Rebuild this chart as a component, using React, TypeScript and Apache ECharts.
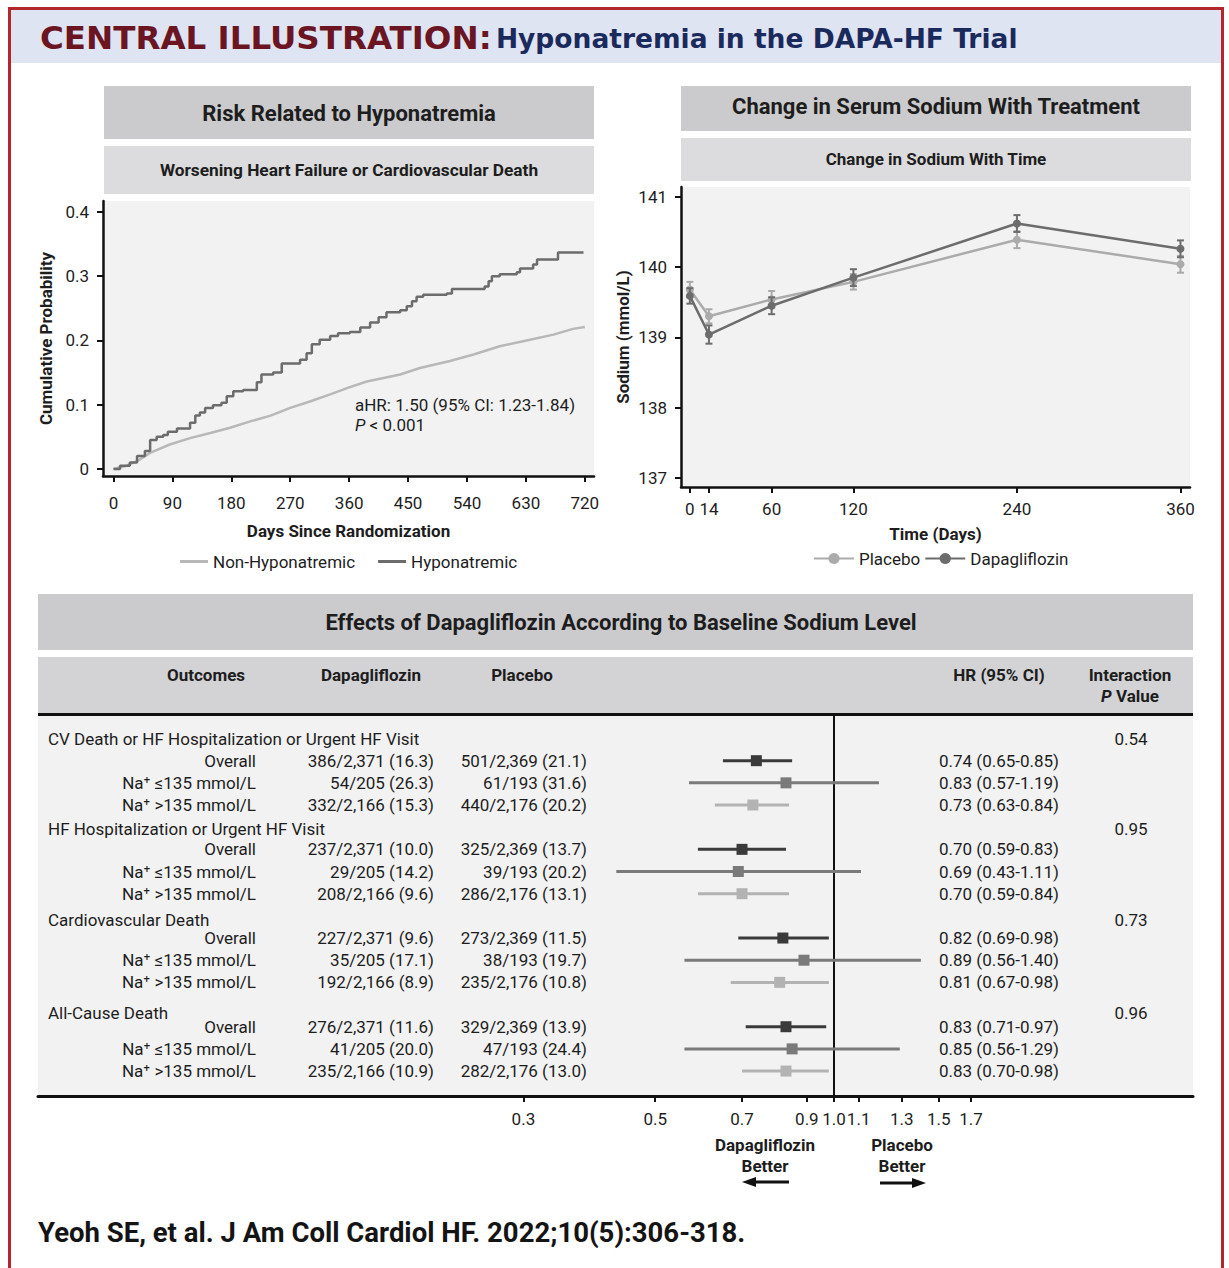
import React, { useEffect, useRef } from 'react';
import * as echarts from 'echarts';

// ---------- Kaplan–Meier: worsening HF or CV death ----------
const kmTicksX = [0, 90, 180, 270, 360, 450, 540, 630, 720];
const kmTicksY = [0, 0.1, 0.2, 0.3, 0.4];
const hypoDays = [0, 10, 25, 36, 48, 56, 66, 76, 83, 97, 117, 125, 132, 140, 152, 165, 173, 183, 198, 219, 226, 244, 257, 285, 295, 303, 315, 331, 343, 361, 377, 392, 405, 417, 438, 448, 456, 463, 473, 509, 517, 567, 573, 578, 590, 616, 621, 641, 647, 679, 718];
const hypoProb = [0, 0.005, 0.01, 0.02, 0.028, 0.045, 0.05, 0.053, 0.058, 0.063, 0.072, 0.083, 0.088, 0.095, 0.099, 0.103, 0.113, 0.121, 0.123, 0.135, 0.147, 0.15, 0.164, 0.17, 0.18, 0.194, 0.201, 0.207, 0.211, 0.213, 0.22, 0.228, 0.236, 0.244, 0.247, 0.253, 0.261, 0.268, 0.271, 0.273, 0.28, 0.284, 0.292, 0.3, 0.303, 0.306, 0.312, 0.318, 0.326, 0.337, 0.337];
const nonHypoDays = [0, 20, 36, 56, 86, 117, 148, 178, 209, 240, 270, 300, 331, 360, 387, 438, 468, 514, 550, 590, 631, 672, 702, 720];
const nonHypoProb = [0, 0.005, 0.012, 0.025, 0.038, 0.048, 0.056, 0.064, 0.074, 0.083, 0.095, 0.105, 0.116, 0.127, 0.136, 0.147, 0.157, 0.168, 0.178, 0.191, 0.2, 0.209, 0.218, 0.221];

// ---------- Serum sodium over time ----------
const sodiumDays = [0, 14, 60, 120, 240, 360];
const sodiumTicksY = [137, 138, 139, 140, 141];
const placeboMean = [139.68, 139.3, 139.54, 139.79, 140.39, 140.04];
const placeboErr = [0.11, 0.1, 0.12, 0.11, 0.12, 0.12];
const dapaMean = [139.59, 139.04, 139.45, 139.85, 140.62, 140.26];
const dapaErr = [0.11, 0.13, 0.12, 0.12, 0.12, 0.12];

// ---------- Forest plot by baseline sodium ----------
const outcomes = [
  'CV Death or HF Hospitalization or Urgent HF Visit',
  'HF Hospitalization or Urgent HF Visit',
  'Cardiovascular Death',
  'All-Cause Death',
];
const subgroups = ['Overall', 'Na\u207A \u2264135 mmol/L', 'Na\u207A >135 mmol/L'];
const interactionP = ['0.54', '0.95', '0.73', '0.96'];
const dapaEvents = [
  '386/2,371 (16.3)', '54/205 (26.3)', '332/2,166 (15.3)',
  '237/2,371 (10.0)', '29/205 (14.2)', '208/2,166 (9.6)',
  '227/2,371 (9.6)', '35/205 (17.1)', '192/2,166 (8.9)',
  '276/2,371 (11.6)', '41/205 (20.0)', '235/2,166 (10.9)',
];
const placeboEvents = [
  '501/2,369 (21.1)', '61/193 (31.6)', '440/2,176 (20.2)',
  '325/2,369 (13.7)', '39/193 (20.2)', '286/2,176 (13.1)',
  '273/2,369 (11.5)', '38/193 (19.7)', '235/2,176 (10.8)',
  '329/2,369 (13.9)', '47/193 (24.4)', '282/2,176 (13.0)',
];
const hr = [0.74, 0.83, 0.73, 0.7, 0.69, 0.7, 0.82, 0.89, 0.81, 0.83, 0.85, 0.83];
const hrLo = [0.65, 0.57, 0.63, 0.59, 0.43, 0.59, 0.69, 0.56, 0.67, 0.71, 0.56, 0.7];
const hrHi = [0.85, 1.19, 0.84, 0.83, 1.11, 0.84, 0.98, 1.4, 0.98, 0.97, 1.29, 0.98];
const forestTicks = [0.3, 0.5, 0.7, 0.9, 1.0, 1.1, 1.3, 1.5, 1.7];
const forestTickLabels = ['0.3', '0.5', '0.7', '0.9', '1.0', '1.1', '1.3', '1.5', '1.7'];

// layout helpers (row slots inside the forest grid)
const titleNudge = [0, 0.1, 0.19, 0.4];
const subgroupColors = ['#3a3a3a', '#7a7a7a', '#b3b3b3'];

const FONT = 'Roboto, "Liberation Sans", sans-serif';
const INK = '#1d1d1d';
const LIGHT = '#b8b8b8';
const DARK = '#6c6c6c';

const fmt = (v: number) => v.toFixed(2);
const hrText = hr.map((h, i) => `${fmt(h)} (${fmt(hrLo[i])}-${fmt(hrHi[i])})`);

const rowSlot = (i: number) => Math.floor(i / 3) * 4 + 1 + (i % 3);

function buildOption(): any {
  const axisLineStyle = { color: '#111', width: 2.5 };
  const tickStyle = { color: '#111', width: 2 };
  const labelStyle = { fontSize: 17, color: INK, fontFamily: FONT };
  const nameStyle = { fontSize: 17, color: INK, fontFamily: FONT, fontWeight: 'bold' };

  const errBar = (color: string) => (params: any, api: any) => {
    const x = api.value(0);
    const lo = api.coord([x, api.value(1)]);
    const hi = api.coord([x, api.value(2)]);
    const w = 3.5;
    const s = { stroke: color, lineWidth: 2 };
    return {
      type: 'group',
      children: [
        { type: 'line', shape: { x1: lo[0], y1: lo[1], x2: hi[0], y2: hi[1] }, style: s },
        { type: 'line', shape: { x1: lo[0] - w, y1: lo[1], x2: lo[0] + w, y2: lo[1] }, style: s },
        { type: 'line', shape: { x1: hi[0] - w, y1: hi[1], x2: hi[0] + w, y2: hi[1] }, style: s },
      ],
    };
  };

  const txt = (text: string, x: number, y: number, o: any = {}) => ({
    type: 'text',
    x,
    y,
    style: {
      text,
      fill: o.fill || INK,
      fontSize: o.fontSize || 17,
      fontFamily: o.fontFamily || FONT,
      fontWeight: o.fontWeight || 'normal',
      fontStyle: o.fontStyle || 'normal',
      align: o.align || 'left',
      textAlign: o.align || 'left',
      verticalAlign: 'middle',
      textVerticalAlign: 'middle',
      rich: o.rich,
    },
  });

  const box = (x: number, y: number, w: number, h: number, fill: string) => ({
    type: 'rect',
    shape: { x, y, width: w, height: h },
    style: { fill },
    silent: true,
  });

  const graphic: any[] = [
    // frame and title bar
    box(11, 10, 1210, 53, '#dfe4f3'),
    box(8, 7, 1216, 3, '#b3262c'),
    box(8, 7, 3, 1261, '#b3262c'),
    box(1221, 7, 3, 1261, '#b3262c'),
    txt('{a|CENTRAL ILLUSTRATION:} {b|Hyponatremia in the DAPA-HF Trial}', 40, 38, {
      rich: {
        a: { fontFamily: '"DejaVu Sans", sans-serif', fontWeight: 'bold', fontSize: 32.5, fill: '#6b1522', color: '#6b1522' },
        b: { fontFamily: '"DejaVu Sans", sans-serif', fontWeight: 'bold', fontSize: 26.5, fill: '#1b2a5c', color: '#1b2a5c' },
      },
    }),
    // left panel headers
    box(104, 86, 490, 53, '#cbcbce'),
    txt('Risk Related to Hyponatremia', 349, 113, { fontSize: 22, fontWeight: 'bold', align: 'center' }),
    box(104, 146, 490, 48, '#dcdcde'),
    txt('Worsening Heart Failure or Cardiovascular Death', 349, 170, { fontSize: 17.3, fontWeight: 'bold', align: 'center' }),
    // right panel headers
    box(681, 86, 510, 45, '#cbcbce'),
    txt('Change in Serum Sodium With Treatment', 936, 106, { fontSize: 22, fontWeight: 'bold', align: 'center' }),
    box(681, 138, 510, 43, '#dcdcde'),
    txt('Change in Sodium With Time', 936, 159, { fontSize: 17, fontWeight: 'bold', align: 'center' }),
    // KM annotation
    txt('aHR: 1.50 (95% CI: 1.23-1.84)', 355, 405),
    txt('{i|P} < 0.001', 355, 425, { rich: { i: { fontStyle: 'italic', fontFamily: FONT, fontSize: 17, fill: INK, color: INK } } }),
    // forest headers
    box(38, 594, 1155, 56, '#cbcbce'),
    txt('Effects of Dapagliflozin According to Baseline Sodium Level', 621, 622, { fontSize: 22, fontWeight: 'bold', align: 'center' }),
    box(38, 657, 1155, 57, '#d3d3d6'),
    txt('Outcomes', 206, 675, { fontWeight: 'bold', align: 'center' }),
    txt('Dapagliflozin', 371, 675, { fontWeight: 'bold', align: 'center' }),
    txt('Placebo', 522, 675, { fontWeight: 'bold', align: 'center' }),
    txt('HR (95% CI)', 999, 675, { fontWeight: 'bold', align: 'center' }),
    txt('Interaction', 1130, 675, { fontWeight: 'bold', align: 'center' }),
    txt('{i|P} Value', 1130, 696, {
      fontWeight: 'bold',
      align: 'center',
      rich: { i: { fontStyle: 'italic', fontWeight: 'bold', fontFamily: FONT, fontSize: 17, fill: INK, color: INK } },
    }),
    box(38, 713, 1155, 3, '#111'),
    // direction notes under the forest axis
    txt('Dapagliflozin', 765, 1145, { fontWeight: 'bold', align: 'center' }),
    txt('Better', 765, 1166, { fontWeight: 'bold', align: 'center' }),
    txt('Placebo', 902, 1145, { fontWeight: 'bold', align: 'center' }),
    txt('Better', 902, 1166, { fontWeight: 'bold', align: 'center' }),
    { type: 'line', shape: { x1: 789, y1: 1182, x2: 752, y2: 1182 }, style: { stroke: '#111', lineWidth: 3 } },
    { type: 'polygon', shape: { points: [[742, 1182], [756, 1177], [756, 1187]] }, style: { fill: '#111' } },
    { type: 'line', shape: { x1: 880, y1: 1183, x2: 916, y2: 1183 }, style: { stroke: '#111', lineWidth: 3 } },
    { type: 'polygon', shape: { points: [[926, 1183], [912, 1178], [912, 1188]] }, style: { fill: '#111' } },
    // citation
    txt('Yeoh SE, et al. J Am Coll Cardiol HF. 2022;10(5):306-318.', 38, 1232, { fontSize: 27.5, fontWeight: 'bold', fill: '#141414' }),
  ];

  const forestCI = hr.map((h, i) => [Math.log(h), Math.log(hrLo[i]), Math.log(hrHi[i]), rowSlot(i)]);
  const forestRows = hr.map((_, i) => [0, rowSlot(i)]);
  const titleRows = outcomes.map((_, g) => [0, g * 4 + titleNudge[g]]);

  return {
    animation: false,
    backgroundColor: '#ffffff',
    textStyle: { fontFamily: FONT },
    graphic,
    grid: [
      { left: 103, top: 201, width: 491, height: 275, show: true, backgroundColor: '#f2f2f2', borderWidth: 0 },
      { left: 681, top: 187, width: 509, height: 300, show: true, backgroundColor: '#f2f2f2', borderWidth: 0 },
      { left: 38, top: 716, width: 1155, height: 380, show: true, backgroundColor: '#f2f2f2', borderWidth: 0 },
    ],
    legend: [
      {
        data: [
          { name: 'Non-Hyponatremic', icon: 'rect' },
          { name: 'Hyponatremic', icon: 'rect' },
        ],
        left: 175,
        top: 548,
        itemWidth: 28,
        itemHeight: 3,
        itemGap: 23,
        textStyle: { ...labelStyle },
        selectedMode: false,
      },
      {
        data: ['Placebo', 'Dapagliflozin'],
        left: 808,
        top: 545,
        itemWidth: 40,
        itemHeight: 14,
        itemGap: 4,
        textStyle: { ...labelStyle },
        selectedMode: false,
      },
    ],
    xAxis: [
      {
        gridIndex: 0,
        type: 'value',
        min: -16,
        max: 734,
        name: 'Days Since Randomization',
        nameLocation: 'middle',
        nameGap: 46,
        nameTextStyle: nameStyle,
        axisLine: { show: true, onZero: false, lineStyle: axisLineStyle },
        axisTick: { show: true, customValues: kmTicksX, length: 6, lineStyle: tickStyle },
        axisLabel: { customValues: kmTicksX, margin: 18, ...labelStyle },
        splitLine: { show: false },
      },
      {
        gridIndex: 1,
        type: 'value',
        min: -6.5,
        max: 367,
        name: 'Time (Days)',
        nameLocation: 'middle',
        nameGap: 38,
        nameTextStyle: nameStyle,
        axisLine: { show: true, onZero: false, lineStyle: axisLineStyle },
        axisTick: { show: true, customValues: sodiumDays, length: 6, lineStyle: tickStyle },
        axisLabel: { customValues: sodiumDays, margin: 13, ...labelStyle },
        splitLine: { show: false },
      },
      {
        gridIndex: 2,
        type: 'value',
        min: -3.085,
        max: 1.391,
        axisLine: { show: true, onZero: false, lineStyle: { color: '#111', width: 3 } },
        axisTick: { show: true, customValues: forestTicks.map(Math.log), length: 6, lineStyle: tickStyle },
        axisLabel: {
          customValues: forestTicks.map(Math.log),
          margin: 14,
          hideOverlap: false,
          ...labelStyle,
          formatter: (v: number) => {
            const k = forestTicks.findIndex((t) => Math.abs(Math.log(t) - v) < 1e-6);
            return k >= 0 ? forestTickLabels[k] : '';
          },
        },
        splitLine: { show: false },
      },
    ],
    yAxis: [
      {
        gridIndex: 0,
        type: 'value',
        min: -0.011,
        max: 0.417,
        name: 'Cumulative Probability',
        nameLocation: 'middle',
        nameGap: 49,
        nameTextStyle: nameStyle,
        axisLine: { show: true, onZero: false, lineStyle: axisLineStyle },
        axisTick: { show: true, customValues: kmTicksY, length: 6, lineStyle: tickStyle },
        axisLabel: {
          customValues: kmTicksY,
          margin: 14,
          ...labelStyle,
          formatter: (v: number) => (Math.abs(v) < 1e-9 ? '0' : v.toFixed(1)),
        },
        splitLine: { show: false },
      },
      {
        gridIndex: 1,
        type: 'value',
        min: 136.87,
        max: 141.14,
        name: 'Sodium (mmol/L)',
        nameLocation: 'middle',
        nameGap: 50,
        nameTextStyle: nameStyle,
        axisLine: { show: true, onZero: false, lineStyle: axisLineStyle },
        axisTick: { show: true, customValues: sodiumTicksY, length: 6, lineStyle: tickStyle },
        axisLabel: { customValues: sodiumTicksY, margin: 14, ...labelStyle },
        splitLine: { show: false },
      },
      {
        gridIndex: 2,
        type: 'value',
        inverse: true,
        min: -1.015,
        max: 16.125,
        show: false,
      },
    ],
    series: [
      // Kaplan–Meier curves
      {
        name: 'Non-Hyponatremic',
        type: 'line',
        xAxisIndex: 0,
        yAxisIndex: 0,
        showSymbol: false,
        symbol: 'none',
        color: LIGHT,
        lineStyle: { color: LIGHT, width: 2.5 },
        data: nonHypoDays.map((d, i) => [d, nonHypoProb[i]]),
      },
      {
        name: 'Hyponatremic',
        type: 'line',
        xAxisIndex: 0,
        yAxisIndex: 0,
        step: 'end',
        showSymbol: false,
        symbol: 'none',
        color: DARK,
        lineStyle: { color: DARK, width: 2.5 },
        data: hypoDays.map((d, i) => [d, hypoProb[i]]),
      },
      // Sodium error bars
      {
        type: 'custom',
        xAxisIndex: 1,
        yAxisIndex: 1,
        renderItem: errBar('#a9a9a9'),
        data: sodiumDays.map((d, i) => [d, placeboMean[i] - placeboErr[i], placeboMean[i] + placeboErr[i]]),
        z: 1,
      },
      {
        type: 'custom',
        xAxisIndex: 1,
        yAxisIndex: 1,
        renderItem: errBar('#6c6c6c'),
        data: sodiumDays.map((d, i) => [d, dapaMean[i] - dapaErr[i], dapaMean[i] + dapaErr[i]]),
        z: 3,
      },
      {
        name: 'Placebo',
        type: 'line',
        xAxisIndex: 1,
        yAxisIndex: 1,
        symbol: 'circle',
        symbolSize: 8,
        color: '#ababab',
        lineStyle: { color: '#ababab', width: 2.5 },
        itemStyle: { color: '#ababab' },
        data: sodiumDays.map((d, i) => [d, placeboMean[i]]),
        z: 2,
      },
      {
        name: 'Dapagliflozin',
        type: 'line',
        xAxisIndex: 1,
        yAxisIndex: 1,
        symbol: 'circle',
        symbolSize: 8,
        color: '#6c6c6c',
        lineStyle: { color: '#6c6c6c', width: 2.5 },
        itemStyle: { color: '#6c6c6c' },
        data: sodiumDays.map((d, i) => [d, dapaMean[i]]),
        z: 4,
      },
      // Forest: reference line at HR = 1
      {
        type: 'scatter',
        xAxisIndex: 2,
        yAxisIndex: 2,
        data: [],
        markLine: {
          silent: true,
          symbol: 'none',
          label: { show: false },
          lineStyle: { color: '#111', width: 2, type: 'solid' },
          data: [{ xAxis: 0 }],
        },
      },
      // Forest: confidence intervals and point estimates
      {
        type: 'custom',
        xAxisIndex: 2,
        yAxisIndex: 2,
        data: forestCI,
        renderItem: (params: any, api: any) => {
          const i = params.dataIndex;
          const c = subgroupColors[i % 3];
          const slot = api.value(3);
          const p = api.coord([api.value(0), slot]);
          const a = api.coord([api.value(1), slot]);
          const b = api.coord([api.value(2), slot]);
          const s = 11;
          return {
            type: 'group',
            children: [
              { type: 'line', shape: { x1: a[0], y1: a[1], x2: b[0], y2: b[1] }, style: { stroke: c, lineWidth: 3 } },
              { type: 'rect', shape: { x: p[0] - s / 2, y: p[1] - s / 2, width: s, height: s }, style: { fill: c } },
            ],
          };
        },
        z: 5,
      },
      // Forest: table rows
      {
        type: 'custom',
        xAxisIndex: 2,
        yAxisIndex: 2,
        data: forestRows,
        renderItem: (params: any, api: any) => {
          const i = params.dataIndex;
          const y = api.coord([0, api.value(1)])[1];
          const st = (text: string, x: number, align: string) => ({
            type: 'text',
            x,
            y,
            style: { text, fill: INK, fontSize: 17, fontFamily: FONT, align, textAlign: align, verticalAlign: 'middle', textVerticalAlign: 'middle' },
          });
          return {
            type: 'group',
            children: [
              st(subgroups[i % 3], 256, 'right'),
              st(dapaEvents[i], 434, 'right'),
              st(placeboEvents[i], 587, 'right'),
              st(hrText[i], 999, 'center'),
            ],
          };
        },
      },
      // Forest: outcome titles and interaction P values
      {
        type: 'custom',
        xAxisIndex: 2,
        yAxisIndex: 2,
        data: titleRows,
        renderItem: (params: any, api: any) => {
          const g = params.dataIndex;
          const y = api.coord([0, api.value(1)])[1];
          const st = (text: string, x: number, align: string) => ({
            type: 'text',
            x,
            y,
            style: { text, fill: INK, fontSize: 17, fontFamily: FONT, align, textAlign: align, verticalAlign: 'middle', textVerticalAlign: 'middle' },
          });
          return {
            type: 'group',
            children: [st(outcomes[g], 48, 'left'), st(interactionP[g], 1131, 'center')],
          };
        },
      },
    ],
  };
}

export default function App() {
  const ref = useRef<HTMLDivElement>(null);
  useEffect(() => {
    if (!ref.current) return;
    const chart = echarts.init(ref.current, null, { renderer: 'svg', width: 1229, height: 1268 });
    chart.setOption(buildOption());
    return () => chart.dispose();
  }, []);
  return (
    <div
      ref={ref}
      style={{ position: 'absolute', left: 0, top: 0, width: 1229, height: 1268, background: '#ffffff' }}
    />
  );
}
